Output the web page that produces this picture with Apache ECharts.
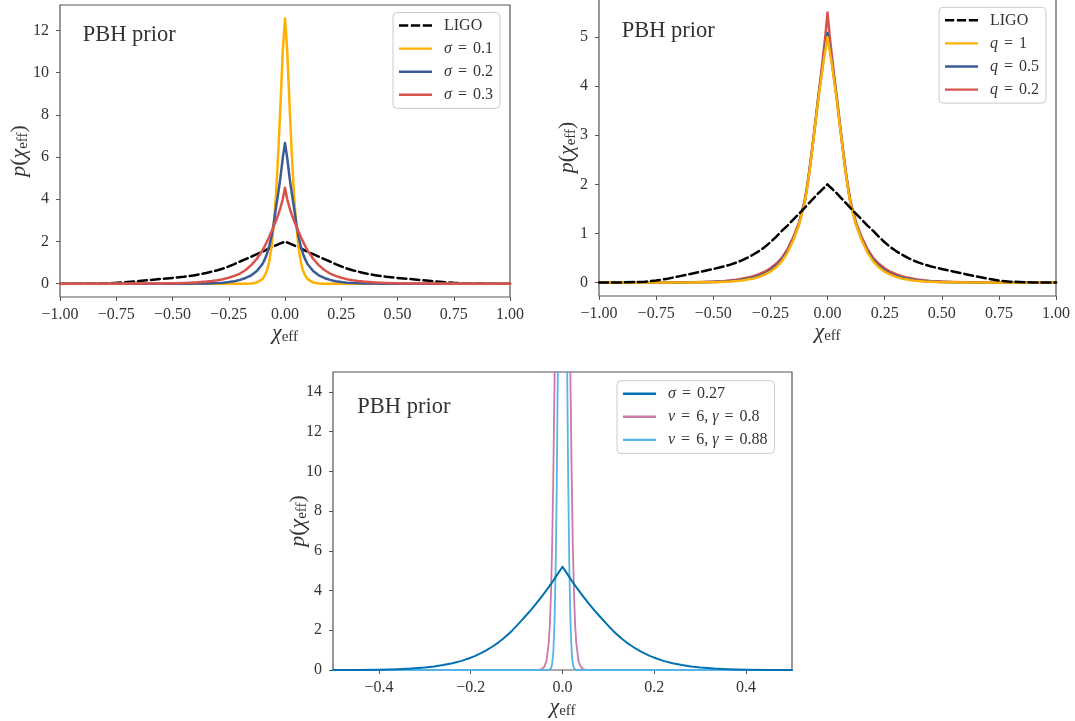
<!DOCTYPE html>
<html>
<head>
<meta charset="utf-8">
<script src="https://cdn.jsdelivr.net/npm/echarts@6/dist/echarts.min.js"></script>
<style>
  html, body { margin: 0; padding: 0; background: #ffffff; }
  #chart { width: 1075px; height: 721px; }
</style>
</head>
<body>
<div id="chart"></div>
<script>
// ---- effective-spin grids (chi_eff) ----
const xsTop = [-1, -0.9, -0.8, -0.75, -0.7, -0.65, -0.6, -0.55, -0.5, -0.45, -0.425, -0.4, -0.375, -0.35, -0.325, -0.3, -0.275, -0.25, -0.225, -0.2, -0.175, -0.15, -0.125, -0.1, -0.09, -0.08, -0.07, -0.06, -0.05, -0.04, -0.03, -0.02, -0.01,
  0,
  0.01, 0.02, 0.03, 0.04, 0.05, 0.06, 0.07, 0.08, 0.09, 0.1, 0.125, 0.15, 0.175, 0.2, 0.225, 0.25, 0.275, 0.3, 0.325, 0.35, 0.375, 0.4, 0.425, 0.45, 0.5, 0.55, 0.6, 0.65, 0.7, 0.75, 0.8, 0.9, 1];

// LIGO posterior (shared by both upper panels)
const ligo = [0, 0.002, 0.016, 0.04, 0.078, 0.125, 0.175, 0.225, 0.275, 0.33, 0.365, 0.405, 0.45, 0.505, 0.57, 0.64, 0.72, 0.82, 0.93, 1.05, 1.16, 1.28, 1.40, 1.52, 1.57, 1.62, 1.67, 1.72, 1.77, 1.82, 1.86, 1.91, 1.95,
  2.00,
  1.95, 1.91, 1.86, 1.82, 1.77, 1.72, 1.67, 1.62, 1.57, 1.52, 1.40, 1.28, 1.16, 1.05, 0.93, 0.82, 0.72, 0.64, 0.57, 0.505, 0.45, 0.405, 0.365, 0.33, 0.275, 0.225, 0.175, 0.125, 0.078, 0.04, 0.016, 0.002, 0];

// upper-left panel: PBH prior for several sigma
const sigma01 = [0, 0, 0, 0, 0, 0, 0, 0, 0, 0, 0, 0, 0, 0, 0, 0, 0, 0, 0, 0, 0.002, 0.012, 0.06, 0.22, 0.38, 0.62, 1.05, 1.75, 2.8, 4.2, 6.2, 8.5, 11.0,
  12.56,
  11.0, 8.5, 6.2, 4.2, 2.8, 1.75, 1.05, 0.62, 0.38, 0.22, 0.06, 0.012, 0.002, 0, 0, 0, 0, 0, 0, 0, 0, 0, 0, 0, 0, 0, 0, 0, 0, 0, 0, 0, 0];
const sigma02 = [0, 0, 0, 0, 0, 0, 0, 0, 0.001, 0.002, 0.003, 0.005, 0.008, 0.013, 0.02, 0.032, 0.05, 0.078, 0.12, 0.18, 0.27, 0.4, 0.6, 0.93, 1.15, 1.42, 1.78, 2.25, 2.85, 3.6, 4.3, 5.05, 5.95,
  6.66,
  5.95, 5.05, 4.3, 3.6, 2.85, 2.25, 1.78, 1.42, 1.15, 0.93, 0.6, 0.4, 0.27, 0.18, 0.12, 0.078, 0.05, 0.032, 0.02, 0.013, 0.008, 0.005, 0.003, 0.002, 0.001, 0, 0, 0, 0, 0, 0, 0, 0];
const sigma03 = [0, 0, 0, 0.001, 0.002, 0.004, 0.007, 0.012, 0.02, 0.035, 0.046, 0.06, 0.078, 0.1, 0.128, 0.165, 0.215, 0.28, 0.37, 0.48, 0.65, 0.88, 1.18, 1.58, 1.78, 2.0, 2.22, 2.47, 2.72, 2.98, 3.27, 3.6, 4.0,
  4.54,
  4.0, 3.6, 3.27, 2.98, 2.72, 2.47, 2.22, 2.0, 1.78, 1.58, 1.18, 0.88, 0.65, 0.48, 0.37, 0.28, 0.215, 0.165, 0.128, 0.1, 0.078, 0.06, 0.046, 0.035, 0.02, 0.012, 0.007, 0.004, 0.002, 0.001, 0, 0, 0];

// upper-right panel: PBH prior for several mass ratios q
const q1 = [0, 0, 0, 0, 0, 0, 0.001, 0.003, 0.007, 0.015, 0.021, 0.03, 0.042, 0.06, 0.083, 0.115, 0.16, 0.22, 0.31, 0.43, 0.61, 0.86, 1.17, 1.62, 1.9, 2.22, 2.58, 2.97, 3.36, 3.74, 4.08, 4.42, 4.72,
  5.0,
  4.72, 4.42, 4.08, 3.74, 3.36, 2.97, 2.58, 2.22, 1.9, 1.62, 1.17, 0.86, 0.61, 0.43, 0.31, 0.22, 0.16, 0.115, 0.083, 0.06, 0.042, 0.03, 0.021, 0.015, 0.007, 0.003, 0.001, 0, 0, 0, 0, 0, 0];
const q05 = [0, 0, 0, 0, 0, 0.001, 0.003, 0.006, 0.011, 0.021, 0.029, 0.04, 0.055, 0.075, 0.1, 0.135, 0.18, 0.25, 0.34, 0.46, 0.64, 0.88, 1.19, 1.64, 1.92, 2.24, 2.6, 2.99, 3.38, 3.77, 4.12, 4.46, 4.78,
  5.08,
  4.78, 4.46, 4.12, 3.77, 3.38, 2.99, 2.6, 2.24, 1.92, 1.64, 1.19, 0.88, 0.64, 0.46, 0.34, 0.25, 0.18, 0.135, 0.1, 0.075, 0.055, 0.04, 0.029, 0.021, 0.011, 0.006, 0.003, 0.001, 0, 0, 0, 0, 0];
const q02 = [0, 0, 0, 0.001, 0.002, 0.003, 0.006, 0.011, 0.019, 0.033, 0.044, 0.058, 0.077, 0.1, 0.13, 0.17, 0.22, 0.29, 0.38, 0.5, 0.68, 0.92, 1.22, 1.66, 1.94, 2.26, 2.62, 3.0, 3.4, 3.8, 4.18, 4.58, 5.0,
  5.5,
  5.0, 4.58, 4.18, 3.8, 3.4, 3.0, 2.62, 2.26, 1.94, 1.66, 1.22, 0.92, 0.68, 0.5, 0.38, 0.29, 0.22, 0.17, 0.13, 0.1, 0.077, 0.058, 0.044, 0.033, 0.019, 0.011, 0.006, 0.003, 0.002, 0.001, 0, 0, 0];

// lower panel
const xsWide = [-0.5, -0.45, -0.4, -0.36, -0.33, -0.3, -0.28, -0.26, -0.24, -0.22, -0.2, -0.19, -0.18, -0.17, -0.16, -0.15, -0.14, -0.13, -0.12, -0.11, -0.1, -0.09, -0.08, -0.07, -0.06, -0.05, -0.04, -0.03, -0.02, -0.01,
  0,
  0.01, 0.02, 0.03, 0.04, 0.05, 0.06, 0.07, 0.08, 0.09, 0.1, 0.11, 0.12, 0.13, 0.14, 0.15, 0.16, 0.17, 0.18, 0.19, 0.2, 0.22, 0.24, 0.26, 0.28, 0.3, 0.33, 0.36, 0.4, 0.45, 0.5];
const sigma027 = [0.001, 0.006, 0.018, 0.042, 0.075, 0.13, 0.18, 0.25, 0.34, 0.46, 0.62, 0.71, 0.82, 0.94, 1.07, 1.22, 1.38, 1.56, 1.76, 1.98, 2.22, 2.47, 2.73, 2.99, 3.27, 3.56, 3.86, 4.17, 4.5, 4.85,
  5.2,
  4.85, 4.5, 4.17, 3.86, 3.56, 3.27, 2.99, 2.73, 2.47, 2.22, 1.98, 1.76, 1.56, 1.38, 1.22, 1.07, 0.94, 0.82, 0.71, 0.62, 0.46, 0.34, 0.25, 0.18, 0.13, 0.075, 0.042, 0.018, 0.006, 0.001];

const xsNarrow = [-0.5, -0.1, -0.07, -0.06, -0.055, -0.05, -0.045, -0.04, -0.035, -0.03, -0.0275, -0.025, -0.0225, -0.02, -0.0175, -0.015, -0.0125, -0.01, -0.0075, -0.005, -0.0025,
  0,
  0.0025, 0.005, 0.0075, 0.01, 0.0125, 0.015, 0.0175, 0.02, 0.0225, 0.025, 0.0275, 0.03, 0.035, 0.04, 0.045, 0.05, 0.055, 0.06, 0.07, 0.1, 0.5];
const nu6g08 = [0, 0, 0, 0.001, 0.005, 0.015, 0.05, 0.15, 0.45, 1.35, 2.3, 3.9, 6.3, 9.8, 14.3, 19, 24, 30.5, 37.5, 43.5, 48,
  50,
  48, 43.5, 37.5, 30.5, 24, 19, 14.3, 9.8, 6.3, 3.9, 2.3, 1.35, 0.45, 0.15, 0.05, 0.015, 0.005, 0.001, 0, 0, 0];
const nu6g088 = [0, 0, 0, 0, 0, 0, 0, 0, 0, 0.005, 0.02, 0.09, 0.3, 0.9, 2.3, 5.0, 9.3, 15.6, 23, 30.5, 37,
  40,
  37, 30.5, 23, 15.6, 9.3, 5.0, 2.3, 0.9, 0.3, 0.09, 0.02, 0.005, 0, 0, 0, 0, 0, 0, 0, 0, 0];

// tick positions
const ticksTopX = [-1, -0.75, -0.5, -0.25, 0, 0.25, 0.5, 0.75, 1];
const ticksLeftY = [0, 2, 4, 6, 8, 10, 12];
const ticksRightY = [0, 1, 2, 3, 4, 5];
const ticksBottomX = [-0.4, -0.2, 0, 0.2, 0.4];
const ticksBottomY = [0, 2, 4, 6, 8, 10, 12, 14];

// ---- styling ----
const FONT = "'Liberation Serif', 'DejaVu Serif', serif";
const SPINE = '#555555';
const TXT = '#333333';
const ORANGE = '#FFB000';
const BLUE = '#3A5A98';
const RED = '#D9534C';

// legend swatches: a solid bar and a three-dash bar
const SOLID_ICON = 'path://M0,0h34v2.5h-34z';
const DASH_ICON = 'path://M0,0h9.5v2.5h-9.5z M12.25,0h9.5v2.5h-9.5z M24.5,0h9.5v2.5h-9.5z';

function fmt(dec) {
  return v => (dec ? Number(v).toFixed(dec) : String(Math.round(v))).replace('-', '\u2212');
}

const nameRich = {
  i: { fontFamily: FONT, fontStyle: 'italic', fontSize: 22, color: TXT, lineHeight: 24 },
  n: { fontFamily: FONT, fontSize: 22, color: TXT, lineHeight: 24 },
  s: { fontFamily: FONT, fontSize: 15, color: TXT, lineHeight: 11, verticalAlign: 'bottom' }
};

function xAxis(gridIndex, min, max, ticks, dec, gap) {
  return {
    type: 'value', gridIndex, min, max,
    axisLine: { show: false, onZero: false },
    axisTick: { show: true, inside: false, length: 4, customValues: ticks, lineStyle: { color: SPINE, width: 1 } },
    axisLabel: { customValues: ticks, formatter: fmt(dec), fontFamily: FONT, fontSize: 16, color: TXT, margin: 10 },
    splitLine: { show: false },
    name: '{i|χ}{s|eff}', nameLocation: 'middle', nameGap: gap, nameMoveOverlap: false,
    nameTextStyle: { fontFamily: FONT, fontSize: 22, color: TXT, rich: nameRich }
  };
}

function yAxis(gridIndex, min, max, ticks, gap) {
  return {
    type: 'value', gridIndex, min, max,
    axisLine: { show: false, onZero: false },
    axisTick: { show: true, inside: false, length: 4, customValues: ticks, lineStyle: { color: SPINE, width: 1 } },
    axisLabel: { customValues: ticks, formatter: fmt(0), fontFamily: FONT, fontSize: 16, color: TXT, margin: 11 },
    splitLine: { show: false },
    name: '{i|p}{n|(}{i|χ}{s|eff}{n|)}', nameLocation: 'middle', nameRotate: 90, nameGap: gap, nameMoveOverlap: false,
    nameTextStyle: { fontFamily: FONT, fontSize: 22, color: TXT, rich: nameRich }
  };
}

function legend(items, left, top) {
  return {
    data: items.map(it => ({ name: it.name, icon: it.dashed ? DASH_ICON : SOLID_ICON })),
    orient: 'vertical', left, top,
    itemWidth: 33, itemHeight: 14, itemGap: 7.1,
    symbolKeepAspect: true,
    padding: [5, 7, 5.5, 6],
    borderColor: '#cccccc', borderWidth: 1, borderRadius: 4,
    backgroundColor: 'rgba(255,255,255,0.8)',
    selectedMode: false,
    formatter: name => name.replace(/([σqνγ])/g, '{i|$1}').replace(/=/g, '{e|=}'),
    textStyle: {
      fontFamily: FONT, fontSize: 16, color: TXT, lineHeight: 14, padding: [0, 0, 0, 7],
      rich: {
        i: { fontFamily: FONT, fontStyle: 'italic', fontSize: 16, color: TXT, lineHeight: 14 },
        e: { fontFamily: FONT, fontSize: 16, color: TXT, lineHeight: 14, padding: [0, 2, 0, 2] }
      }
    }
  };
}

function line(name, xi, xs, ys, color, width, z, dash) {
  return {
    type: 'line', name, xAxisIndex: xi, yAxisIndex: xi,
    data: xs.map((x, i) => [x, ys[i]]),
    symbol: 'none', showSymbol: false, clip: true, z,
    lineStyle: { color, width, type: dash || 'solid', join: 'round', cap: 'round' },
    itemStyle: { color },
    emphasis: { disabled: true },
    animation: false
  };
}

const gridStyle = { show: true, borderColor: SPINE, borderWidth: 1.2, backgroundColor: 'transparent', containLabel: false, outerBoundsMode: 'none' };

const chart = echarts.init(document.getElementById('chart'), null, { renderer: 'canvas' });

chart.setOption({
  backgroundColor: '#ffffff',
  animation: false,
  grid: [
    Object.assign({ left: 60, top: 5, width: 450, height: 292 }, gridStyle),
    Object.assign({ left: 599, top: -1, width: 457, height: 297 }, gridStyle),
    Object.assign({ left: 333, top: 372, width: 459, height: 298 }, gridStyle)
  ],
  xAxis: [
    xAxis(0, -1, 1, ticksTopX, 2, 24),
    xAxis(1, -1, 1, ticksTopX, 2, 24),
    xAxis(2, -0.5, 0.5, ticksBottomX, 1, 25)
  ],
  yAxis: [
    yAxis(0, -0.63, 13.2, ticksLeftY, 29),
    yAxis(1, -0.275, 5.775, ticksRightY, 20),
    yAxis(2, 0, 15, ticksBottomY, 23)
  ],
  legend: [
    legend([{ name: 'LIGO', dashed: true }, { name: 'σ = 0.1' }, { name: 'σ = 0.2' }, { name: 'σ = 0.3' }], 393, 12.5),
    legend([{ name: 'LIGO', dashed: true }, { name: 'q = 1' }, { name: 'q = 0.5' }, { name: 'q = 0.2' }], 939, 7.3),
    legend([{ name: 'σ = 0.27' }, { name: 'ν = 6, γ = 0.8' }, { name: 'ν = 6, γ = 0.88' }], 617, 380.7)
  ],
  graphic: [
    { type: 'text', x: 82.7, y: 35, silent: true, style: { text: 'PBH prior', fontFamily: FONT, fontSize: 22.5, fill: TXT, align: 'left', verticalAlign: 'middle' } },
    { type: 'text', x: 621.7, y: 31.5, silent: true, style: { text: 'PBH prior', fontFamily: FONT, fontSize: 22.5, fill: TXT, align: 'left', verticalAlign: 'middle' } },
    { type: 'text', x: 357.3, y: 407.5, silent: true, style: { text: 'PBH prior', fontFamily: FONT, fontSize: 22.5, fill: TXT, align: 'left', verticalAlign: 'middle' } }
  ],
  series: [
    line('LIGO', 0, xsTop, ligo, '#000000', 2.5, 2, [9, 4]),
    line('σ = 0.1', 0, xsTop, sigma01, ORANGE, 2.5, 3),
    line('σ = 0.2', 0, xsTop, sigma02, BLUE, 2.5, 4),
    line('σ = 0.3', 0, xsTop, sigma03, RED, 2.5, 5),

    line('q = 0.2', 1, xsTop, q02, RED, 2.5, 2),
    line('q = 0.5', 1, xsTop, q05, BLUE, 2.5, 3),
    line('q = 1', 1, xsTop, q1, ORANGE, 2.5, 4),
    line('LIGO', 1, xsTop, ligo, '#000000', 2.5, 5, [9, 4]),

    line('ν = 6, γ = 0.8', 2, xsNarrow, nu6g08, '#CC79A7', 1.8, 2),
    line('ν = 6, γ = 0.88', 2, xsNarrow, nu6g088, '#56B4E9', 1.8, 3),
    line('σ = 0.27', 2, xsWide, sigma027, '#0072B2', 2, 4)
  ]
});
</script>
</body>
</html>
